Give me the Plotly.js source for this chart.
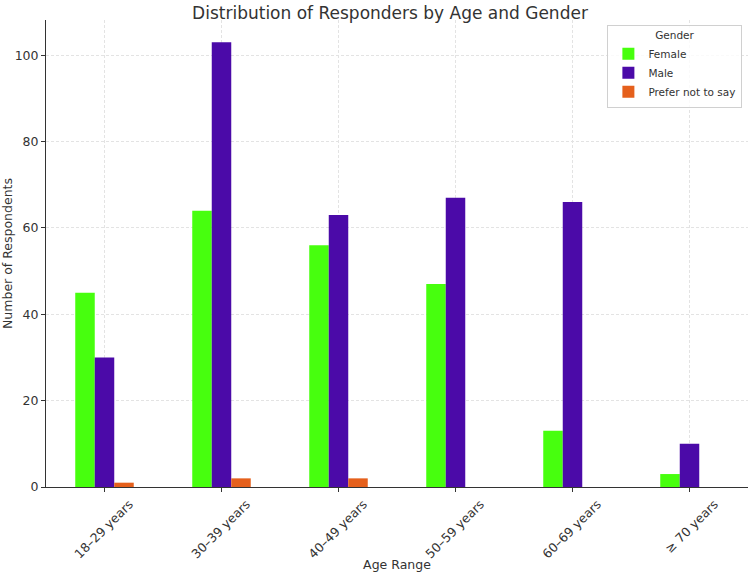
<!DOCTYPE html>
<html>
<head>
<meta charset="utf-8">
<script src="https://cdn.plot.ly/plotly-3.0.1.min.js"></script>
<style>html,body{margin:0;padding:0;background:#fff;}#chart{width:750px;height:572px;}</style>
</head>
<body>
<div id="chart"></div>
<script>
const categories = ["18\u201329 years", "30\u201339 years", "40\u201349 years", "50\u201359 years", "60\u201369 years", "\u2265 70 years"];
const female = [45, 64, 56, 47, 13, 3];
const male = [30, 103, 63, 67, 66, 10];
const preferNot = [1, 2, 2, 0, 0, 0];
const seriesNames = ["Female", "Male", "Prefer not to say"];
const seriesColors = ["#47ff0e", "#4b0aa8", "#e5601c"];

const traces = [female, male, preferNot].map((vals, i) => ({
  type: "bar",
  x: categories,
  y: vals,
  name: seriesNames[i],
  marker: {color: seriesColors[i], line: {width: 0}},
  hoverinfo: "x+y+name"
}));

const layout = {
  width: 750, height: 572,
  font: {family: "DejaVu Sans", size: 12, color: "#333"},
  title: {text: "Distribution of Responders by Age and Gender", x: 0.52, xanchor: "center", y: 0.988, yanchor: "top", font: {size: 17, color: "#333"}},
  margin: {l: 46, r: 2, t: 20, b: 85},
  barmode: "group",
  bargap: 0.5,
  bargroupgap: 0,
  plot_bgcolor: "#fff",
  paper_bgcolor: "#fff",
  xaxis: {
    title: {text: "Age Range", font: {size: 12.5, color: "#333"}, standoff: 4},
    range: [-0.5, 5.5],
    tickangle: -45,
    ticklabelshift: 25,
    showgrid: true, gridcolor: "#e3e3e3", griddash: "3px,2px", gridwidth: 1,
    showline: true, linecolor: "#333", linewidth: 1,
    ticks: "outside", ticklen: 4, tickcolor: "#333",
    tickfont: {size: 12.5, color: "#333"},
    zeroline: false
  },
  yaxis: {
    title: {text: "Number of Respondents", font: {size: 12.5, color: "#333"}, standoff: 8},
    range: [0, 108.15],
    tickvals: [0, 20, 40, 60, 80, 100],
    showgrid: true, gridcolor: "#e3e3e3", griddash: "3px,2px", gridwidth: 1,
    showline: true, linecolor: "#333", linewidth: 1,
    ticks: "outside", ticklen: 4, tickcolor: "#333",
    tickfont: {size: 12.5, color: "#333"},
    zeroline: false
  },
  legend: {
    title: {text: "Gender", side: "top center", font: {size: 10.5, color: "#333"}},
    x: 0.992, y: 0.99, xanchor: "right", yanchor: "top",
    bgcolor: "rgba(255,255,255,0.8)", bordercolor: "#d0d0d0", borderwidth: 1,
    font: {size: 10.5, color: "#333"},
    tracegroupgap: 0, itemwidth: 30
  },
  showlegend: true
};

Plotly.newPlot("chart", traces, layout, {displayModeBar: false});
</script>
</body>
</html>
